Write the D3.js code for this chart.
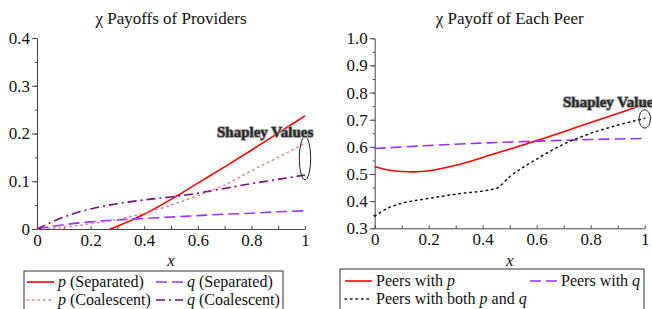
<!DOCTYPE html>
<html lang="en">
<head>
    <meta charset="UTF-8">
    <script src="https://cdnjs.cloudflare.com/ajax/libs/d3/7.8.5/d3.min.js"></script>
    <style>
        body { margin: 0; background: #fff; }
        .axis path, .axis line { stroke: #444; }
    </style>
</head>
<body>
    <svg id="chart" width="652" height="309"></svg>
    <script>
        // left panel: payoffs of providers
        const xs = [0, 0.1, 0.2, 0.3, 0.4, 0.5, 0.6, 0.7, 0.8, 0.9, 1.0];
        const pSepX = [0.272, 0.3, 0.4, 0.5, 0.6, 0.7, 0.8, 0.9, 1.0];
        const pSep = [0, 0.006, 0.031, 0.062, 0.096, 0.130, 0.165, 0.201, 0.237];
        const qSep = [0, 0.009, 0.015, 0.019, 0.022, 0.025, 0.028, 0.031, 0.033, 0.036, 0.038];
        const pCoa = [0, 0.004, 0.011, 0.020, 0.033, 0.050, 0.070, 0.092, 0.122, 0.150, 0.180];
        const qCoa = [0, 0.025, 0.042, 0.053, 0.061, 0.067, 0.075, 0.085, 0.095, 0.104, 0.113];

        // right panel: payoff of each peer
        const peerPX = [0, 0.05, 0.1, 0.15, 0.2, 0.3, 0.4, 0.5, 0.6, 0.7, 0.8, 0.9, 1.0];
        const peerP = [0.527, 0.515, 0.509, 0.508, 0.512, 0.532, 0.561, 0.592, 0.623, 0.656, 0.690, 0.723, 0.757];
        const peerQX = [0, 0.2, 0.4, 0.6, 0.8, 1.0];
        const peerQ = [0.594, 0.605, 0.614, 0.621, 0.627, 0.631];
        const peerBX = [0, 0.05, 0.1, 0.2, 0.3, 0.45, 0.5, 0.6, 0.7, 0.8, 0.9, 1.0];
        const peerB = [0.345, 0.375, 0.392, 0.410, 0.426, 0.447, 0.490, 0.555, 0.610, 0.650, 0.680, 0.705];

        const xTicks = [0, 0.2, 0.4, 0.6, 0.8, 1];
        const leftYTicks = [0, 0.1, 0.2, 0.3, 0.4];
        const rightYTicks = [0.3, 0.4, 0.5, 0.6, 0.7, 0.8, 0.9, 1.0];

        const FONT = 'Liberation Serif';
        const svg = d3.select('#chart');
        const zip = (a, b) => a.map((d, i) => [d, b[i]]);

        function panel(opt) {
            const x = d3.scaleLinear().domain([0, 1]).range(opt.xr);
            const y = d3.scaleLinear().domain(opt.yd).range(opt.yr);
            const g = svg.append('g');

            // minor ticks
            g.append('g').attr('class', 'axis')
                .attr('transform', `translate(0,${opt.yr[0]})`)
                .call(d3.axisTop(x).tickValues(d3.range(0, 1.01, 0.1)).tickSize(3).tickFormat(''))
                .select('.domain').remove();
            g.append('g').attr('class', 'axis')
                .attr('transform', `translate(${opt.xr[0]},0)`)
                .call(d3.axisLeft(y).tickValues(d3.range(opt.yd[0], opt.yd[1] + 0.001, 0.05)).tickSize(2).tickFormat(''))
                .select('.domain').remove();

            const xa = g.append('g').attr('class', 'axis')
                .attr('transform', `translate(0,${opt.yr[0]})`)
                .call(d3.axisBottom(x).tickValues(xTicks).tickSize(0).tickPadding(5).tickSizeOuter(0)
                    .tickFormat(d => d === 0 || d === 1 ? d3.format('d')(d) : d3.format('.1f')(d)));
            const ya = g.append('g').attr('class', 'axis')
                .attr('transform', `translate(${opt.xr[0]},0)`)
                .call(d3.axisLeft(y).tickValues(opt.yTicks).tickSize(5).tickPadding(2).tickSizeOuter(0)
                    .tickFormat(opt.yFmt));
            [xa, ya].forEach(a => a.attr('font-family', FONT).attr('font-size', 17)
                .selectAll('text').attr('fill', '#111').attr('font-family', FONT));

            g.append('text')
                .attr('x', (opt.xr[0] + opt.xr[1]) / 2 + opt.titleDx).attr('y', 24)
                .attr('text-anchor', 'middle').attr('font-family', FONT).attr('font-size', 17).attr('fill', '#111')
                .text(opt.title);

            g.append('text')
                .attr('x', (opt.xr[0] + opt.xr[1]) / 2).attr('y', 266)
                .attr('text-anchor', 'middle').attr('font-family', FONT).attr('font-size', 17).attr('font-style', 'italic')
                .attr('fill', '#111').text('x');

            const line = d3.line().x(d => x(d[0])).y(d => y(d[1])).curve(d3.curveMonotoneX);
            opt.series.forEach(s => {
                g.append('path')
                    .attr('d', line(zip(s.x, s.y)))
                    .attr('fill', 'none')
                    .attr('stroke', s.color)
                    .attr('stroke-width', s.width || 1.6)
                    .attr('stroke-dasharray', s.dash || null)
                    .attr('stroke-linecap', s.cap || 'butt');
            });

            // Shapley ellipse and label
            g.append('ellipse')
                .attr('cx', x(1)).attr('cy', y(opt.ell[0]))
                .attr('rx', 5.7).attr('ry', Math.abs(y(opt.ell[0] + opt.ell[1]) - y(opt.ell[0])))
                .attr('fill', 'none').attr('stroke', '#222').attr('stroke-width', 1);
            g.append('text')
                .attr('x', opt.lab[0]).attr('y', opt.lab[1])
                .attr('font-family', FONT).attr('font-size', 15).attr('font-weight', 'bold')
                .attr('fill', '#2a2a2a').attr('stroke', '#999').attr('stroke-width', 1.6)
                .attr('paint-order', 'stroke').attr('stroke-linejoin', 'round')
                .text('Shapley Values');

            // legend
            const lg = g.append('g');
            lg.append('rect')
                .attr('x', opt.leg.x).attr('y', opt.leg.y).attr('width', opt.leg.w).attr('height', 60)
                .attr('fill', 'none').attr('stroke', '#333').attr('stroke-width', 1);
            opt.series.forEach(s => {
                const [lx, ly] = s.legPos;
                lg.append('line')
                    .attr('x1', lx).attr('x2', lx + 27).attr('y1', ly - 5).attr('y2', ly - 5)
                    .attr('stroke', s.color).attr('stroke-width', s.width || 1.6)
                    .attr('stroke-dasharray', s.dash || null).attr('stroke-linecap', s.cap || 'butt');
                const t = lg.append('text').attr('x', lx + 31).attr('y', ly)
                    .attr('font-family', FONT).attr('font-size', 16).attr('fill', '#111');
                s.label.forEach(p => {
                    t.append('tspan').attr('font-style', p[1] ? 'italic' : 'normal').text(p[0]);
                });
            });
        }

        panel({
            xr: [37, 305], yd: [0, 0.4], yr: [229, 38], yTicks: leftYTicks,
            yFmt: d => d === 0 ? '0' : d3.format('.1f')(d),
            title: 'χ Payoffs of Providers', titleDx: 0,
            ell: [0.148, 0.045], lab: [217, 137],
            leg: { x: 24, y: 271, w: 259 },
            series: [
                { x: pSepX, y: pSep, color: '#ff0000', label: [['p', 1], [' (Separated)', 0]], legPos: [27, 287] },
                { x: xs, y: qSep, color: '#9b30ff', dash: '11,5', label: [['q', 1], [' (Separated)', 0]], legPos: [156, 287] },
                { x: xs, y: pCoa, color: '#f48080', dash: '1.5,4', cap: 'round', width: 1.5, label: [['p', 1], [' (Coalescent)', 0]], legPos: [27, 305] },
                { x: xs, y: qCoa, color: '#7b0a80', dash: '9,4,2,4', label: [['q', 1], [' (Coalescent)', 0]], legPos: [156, 305] }
            ]
        });

        panel({
            xr: [374.7, 644.7], yd: [0.3, 1.0], yr: [228.3, 38.3], yTicks: rightYTicks,
            yFmt: d3.format('.1f'),
            title: 'χ Payoff of Each Peer', titleDx: 0,
            ell: [0.703, 0.034], lab: [563, 107],
            leg: { x: 340, y: 269, w: 304 },
            series: [
                { x: peerPX, y: peerP, color: '#ff0000', label: [['Peers with ', 0], ['p', 1]], legPos: [345, 286] },
                { x: peerQX, y: peerQ, color: '#9b30ff', dash: '11,5', label: [['Peers with ', 0], ['q', 1]], legPos: [530, 286] },
                { x: peerBX, y: peerB, color: '#111', dash: '1.5,4', cap: 'round', width: 1.5, label: [['Peers with both ', 0], ['p', 1], [' and ', 0], ['q', 1]], legPos: [345, 304] }
            ]
        });
    </script>
</body>
</html>
